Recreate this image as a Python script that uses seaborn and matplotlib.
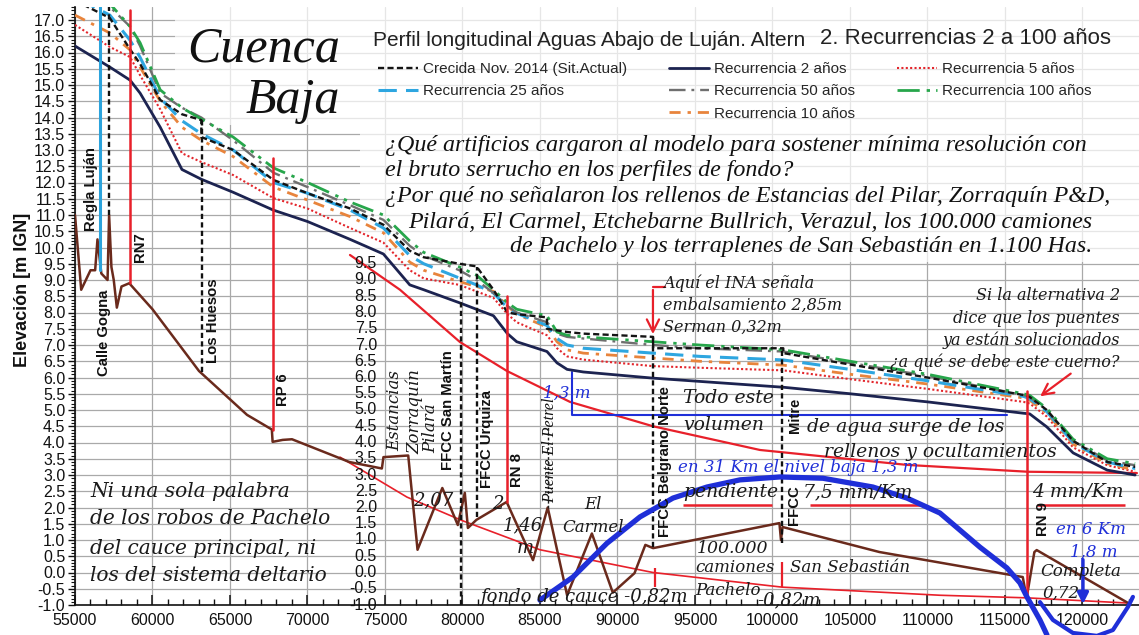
import pandas as pd
import seaborn as sns
from matplotlib import pyplot as plt
from matplotlib import ticker as plticker
from matplotlib.lines import Line2D
from matplotlib.patches import Rectangle

# ---------------------------------------------------------------
# valores (progresiva en m, cota en m IGN)
# los nodos repetidos de la progresiva son saltos en los puentes
# ---------------------------------------------------------------
prog = [55000, 57250, 58550, 59200, 60500, 61900, 63150, 63150, 65200, 67800,
        70000, 72750, 74900, 76600, 77500, 79800, 80900, 82000, 82900, 83500,
        85450, 85450, 86100, 86750, 87800, 92300, 92300, 95300, 100700, 100700,
        105000, 110000, 116200, 116600, 117700, 119400, 121600, 123400]

crecida_2014 = [17.6, 17.06, 16.1, 15.65, 14.54, 14.1, 13.92, 13.4, 13.0, 12.08,
                11.67, 11.2, 10.7, 9.9, 9.7, 9.5, 9.42, 8.7, 8.0, 7.95,
                7.85, 7.5, 7.45, 7.4, 7.35, 7.25, 6.9, 6.9, 6.9, 6.75,
                6.4, 6.0, 5.46, 5.4, 5.0, 4.05, 3.4, 3.25]
rec_2 = [16.2, 15.55, 15.15, 14.75, 13.7, 12.4, 12.1, 12.1, 11.7, 11.15,
         10.8, 10.25, 9.8, 8.85, 8.7, 8.3, 8.1, 7.9, 7.35, 7.1,
         6.8, 6.8, 6.45, 6.25, 6.17, 5.98, 5.98, 5.88, 5.7, 5.7,
         5.5, 5.25, 4.9, 4.88, 4.48, 3.68, 3.15, 3.0]
rec_5 = [16.85, 16.17, 15.86, 15.3, 14.25, 12.9, 12.63, 12.63, 12.23, 11.52,
         11.2, 10.6, 10.15, 9.3, 9.05, 8.85, 8.65, 8.45, 7.95, 7.7,
         7.3, 7.3, 6.9, 6.65, 6.55, 6.35, 6.35, 6.3, 6.22, 6.22,
         5.95, 5.65, 5.25, 5.2, 4.8, 3.85, 3.3, 3.1]
rec_10 = [17.15, 16.6, 16.08, 15.55, 14.5, 13.7, 13.3, 13.3, 12.8, 11.86,
          11.46, 10.95, 10.45, 9.55, 9.3, 8.95, 8.8, 8.65, 8.2, 7.95,
          7.55, 7.55, 7.1, 6.85, 6.75, 6.6, 6.6, 6.5, 6.38, 6.38,
          6.1, 5.8, 5.37, 5.3, 4.9, 3.95, 3.35, 3.15]
rec_25 = [17.7, 17.15, 16.38, 15.85, 14.6, 13.9, 13.5, 13.5, 13.0, 12.0,
          11.67, 11.15, 10.6, 9.75, 9.5, 9.06, 8.85, 8.6, 8.15, 7.98,
          7.6, 7.6, 7.2, 7.0, 6.9, 6.75, 6.75, 6.65, 6.54, 6.54,
          6.25, 5.9, 5.42, 5.35, 4.95, 4.0, 3.4, 3.2]
rec_50 = [17.9, 17.4, 16.8, 16.2, 14.75, 14.3, 14.0, 14.0, 13.3, 12.3,
          11.86, 11.3, 10.85, 10.05, 9.75, 9.3, 9.0, 8.6, 8.2, 8.0,
          7.7, 7.7, 7.35, 7.25, 7.2, 7.0, 7.0, 6.9, 6.8, 6.8,
          6.45, 6.05, 5.46, 5.4, 5.0, 4.05, 3.45, 3.3]
rec_100 = [18.0, 17.5, 16.8, 16.3, 14.85, 14.3, 13.95, 13.95, 13.4, 12.45,
           12.0, 11.4, 11.0, 10.2, 9.85, 9.4, 9.15, 8.7, 8.3, 8.1,
           7.9, 7.9, 7.4, 7.3, 7.25, 7.1, 7.1, 7.0, 6.85, 6.85,
           6.5, 6.1, 5.5, 5.45, 5.05, 4.1, 3.5, 3.35]

# perfil de fondo de cauce
fondo_prog = [55000, 55400, 56000, 56300, 56450, 56700, 57100, 57200, 57350, 57500,
              57700, 58000, 58500, 60000, 63000, 66100, 67700, 67750, 68400, 69000,
              72700, 74800, 74900, 76500, 77100, 78700, 79700, 80150, 80350, 80900,
              82850, 84550, 85500, 86750, 88350, 89700, 91100, 91800, 92300, 100450,
              100550, 100650, 106900, 116150, 116400, 116900, 117050, 122950]
fondo_cota = [11.0, 8.7, 9.3, 9.3, 10.25, 9.2, 9.0, 11.0, 9.4, 9.0,
              8.15, 8.8, 8.9, 8.1, 6.2, 4.85, 4.4, 4.02, 4.08, 4.1,
              3.4, 3.2, 3.55, 3.6, 0.7, 2.6, 1.46, 2.45, 1.37, 1.62,
              2.17, 0.38, 2.0, -0.7, 1.2, -0.62, -0.02, 0.85, 0.75, 1.52,
              1.0, 1.4, 0.63, -0.14, -0.78, 0.63, 0.69, -0.94]

# puentes y cruces
puente_prog = [56613, 57194, 58548, 63194, 67774, 79900, 80935, 82871, 85516,
               92290, 100612, 116450]
puente_sup = [17.4, 17.4, 17.3, 13.92, 12.75, 9.5, 9.4, 8.5, 4.5, 7.25, 6.9, 5.6]
puente_inf = [9.3, 11.0, 8.9, 6.17, 4.4, -1.0, 1.7, 2.17, 2.0, 0.8, 0.9, -0.8]
puente_tipo = ['regla', 'ffcc', 'ruta', 'ffcc', 'ruta', 'ffcc', 'ffcc', 'ruta',
               'fino', 'ffcc', 'ffcc', 'ruta']

# trazas agregadas a mano sobre el grafico
traza_sup_prog = [72742, 75968, 79839, 82871, 86935, 92290, 99194, 108700, 116484, 123516]
traza_sup_cota = [9.77, 8.70, 7.09, 6.20, 5.25, 4.50, 3.77, 3.31, 3.10, 3.06]
traza_inf_prog = [72097, 76419, 79968, 85000, 92290, 100613, 110806, 116419, 122935]
traza_inf_cota = [3.55, 2.32, 1.60, 0.70, 0.00, -0.45, -0.70, -0.78, -0.94]
arco_prog = [85000, 87129, 88226, 89323, 91452, 93581, 95774, 97903, 100484, 103258,
             106484, 108677, 110806, 113387, 115129, 115968, 116419, 117258, 117710]
arco_cota = [-0.85, -0.14, 0.38, 0.90, 1.71, 2.29, 2.63, 2.85, 2.94, 2.90,
             2.63, 2.29, 1.83, 0.78, 0.14, -0.32, -0.75, -1.46, -1.92]
ovalo_prog = [117258, 118097, 119387, 120935, 121968, 122935, 123258]
ovalo_cota = [-0.91, -1.46, -1.86, -1.95, -1.77, -1.06, -0.75]
desnivel_prog = [87065, 87065, 115129]
desnivel_cota = [6.17, 4.85, 4.85]
subrayado_ini = [94226, 102419, 117065]
subrayado_fin = [99968, 109516, 122742]
subrayado_cota = [2.08, 2.08, 2.08]
marca_prog = [92420, 100613]
marca_sup = [0.14, 0.32]
marca_inf = [-0.45, -0.45]

# eje secundario del tramo aguas abajo
cotas_tramo2 = [9.5, 9.0, 8.5, 8.0, 7.5, 7.0, 6.5, 6.0, 5.5, 5.0, 4.5, 4.0,
                3.5, 3.0, 2.5, 2.0, 1.5, 1.0, 0.5, 0.0, -0.5, -1.0]

series = {
    'Crecida Nov. 2014 (Sit.Actual)': crecida_2014,
    'Recurrencia 2 años': rec_2,
    'Recurrencia 5 años': rec_5,
    'Recurrencia 10 años': rec_10,
    'Recurrencia 25 años': rec_25,
    'Recurrencia 50 años': rec_50,
    'Recurrencia 100 años': rec_100,
}

estilos = {
    'Crecida Nov. 2014 (Sit.Actual)': dict(color='#141414', lw=1.7, dashes=(2.6, 1.4)),
    'Recurrencia 2 años': dict(color='#1c2350', lw=2.0, dashes=None),
    'Recurrencia 5 años': dict(color='#e3262c', lw=1.5, dashes=(1.0, 1.1)),
    'Recurrencia 10 años': dict(color='#e8843c', lw=2.0, dashes=(4, 2.5, 1.2, 2.5)),
    'Recurrencia 25 años': dict(color='#2ea6e0', lw=2.2, dashes=(6, 3)),
    'Recurrencia 50 años': dict(color='#6f6f6f', lw=1.7, dashes=(7, 2.5, 1.2, 2.5)),
    'Recurrencia 100 años': dict(color='#27a64b', lw=2.0, dashes=(8, 2.5, 1.2, 2.2, 1.2, 2.2)),
}
orden_dibujo = ['Recurrencia 2 años', 'Recurrencia 5 años', 'Recurrencia 10 años',
                'Recurrencia 25 años', 'Recurrencia 50 años', 'Recurrencia 100 años',
                'Crecida Nov. 2014 (Sit.Actual)']

ROJO = '#e8202a'
AZUL = '#1f2fd8'
SERIF_IT = dict(family='DejaVu Serif', style='italic', color='#1a1a1a')
TIMES_IT = dict(family='Liberation Serif', style='italic', color='#111111')
NEGRITA = dict(family='Liberation Sans', weight='bold', color='#111111')

sns.set_theme(style='whitegrid')
plt.rcParams['font.family'] = ['Liberation Sans', 'DejaVu Sans']

fig = plt.figure(figsize=(11.39, 6.35), dpi=100)
ax = fig.add_axes([75 / 1139, 30 / 635, 1064 / 1139, 598 / 635])
ax.set_facecolor('white')
ax.set_axisbelow(True)

# perfiles de agua
perfiles = pd.DataFrame({'prog': prog, **series})
largo = perfiles.melt(id_vars='prog', var_name='serie', value_name='cota')
for serie in orden_dibujo:
    est = estilos[serie]
    sns.lineplot(data=largo[largo['serie'] == serie], x='prog', y='cota',
                 estimator=None, sort=False, color=est['color'],
                 linewidth=est['lw'], ax=ax, zorder=4)
    if est['dashes'] is not None:
        ax.lines[-1].set_dashes(est['dashes'])

# fondo de cauce
sns.lineplot(x=fondo_prog, y=fondo_cota, estimator=None, sort=False,
             color='#6a2a1c', linewidth=1.8, ax=ax, zorder=4)

# puentes
for x, y1, y0, tipo in zip(puente_prog, puente_sup, puente_inf, puente_tipo):
    if tipo == 'ruta':
        ax.plot([x, x], [y0, y1], color=ROJO, lw=1.8, zorder=5)
    elif tipo == 'regla':
        ax.plot([x, x], [y0, y1], color='#2ba3dc', lw=2.2, zorder=5)
    elif tipo == 'fino':
        ax.plot([x, x], [y0, y1], color='#222222', lw=1.0, dashes=(2, 1.5), zorder=5)
    else:
        ax.plot([x, x], [y0, y1], color='#111111', lw=1.7, dashes=(2.2, 1.4), zorder=5)

# trazas rojas
ax.plot(traza_sup_prog, traza_sup_cota, color=ROJO, lw=1.6, zorder=3)
ax.plot(traza_inf_prog, traza_inf_cota, color=ROJO, lw=1.2, zorder=3)
ax.hlines(subrayado_cota, subrayado_ini, subrayado_fin, colors=ROJO, lw=1.8, zorder=3)
ax.vlines(marca_prog, marca_inf, marca_sup, colors=ROJO, lw=1.6, zorder=3)
ax.plot([93065, 92290], [8.78, 8.78], color=ROJO, lw=1.6, zorder=5)
ax.annotate('', xy=(92290, 7.25), xytext=(92290, 8.78),
            arrowprops=dict(arrowstyle='->', color=ROJO, lw=1.6,
                            mutation_scale=22), zorder=5)
ax.annotate('', xy=(117129, 5.37), xytext=(119387, 6.17),
            arrowprops=dict(arrowstyle='->', color=ROJO, lw=1.6,
                            mutation_scale=20), zorder=5)

# trazas azules
ax.plot(desnivel_prog, desnivel_cota, color=AZUL, lw=1.5, zorder=3)
ax.plot(arco_prog, arco_cota, color=AZUL, lw=3.8, zorder=6, clip_on=False,
        solid_capstyle='round')
ax.plot(ovalo_prog, ovalo_cota, color=AZUL, lw=3.0, zorder=6, clip_on=False)
ax.annotate('', xy=(120032, -1.06), xytext=(120032, 0.48),
            arrowprops=dict(arrowstyle='-|>', color=AZUL, lw=2.5,
                            mutation_scale=16), zorder=6, annotation_clip=False)

# velo claro sobre la zona de textos
ax.add_patch(Rectangle((61452, 13.77), 73387 - 61452, 17.6 - 13.77,
                       facecolor='white', edgecolor='none', alpha=0.72, zorder=1))
ax.add_patch(Rectangle((73387, 9.55), 123700 - 73387, 17.6 - 9.55,
                       facecolor='white', edgecolor='none', alpha=0.72, zorder=1))

# ejes
ax.set_xlim(55000, 123650)
ax.set_ylim(-1.0, 17.4)
ax.xaxis.set_major_locator(plticker.MultipleLocator(5000))
ax.xaxis.set_minor_locator(plticker.MultipleLocator(1000))
ax.yaxis.set_major_locator(plticker.MultipleLocator(0.5))
ax.yaxis.set_minor_locator(plticker.MultipleLocator(0.1))
ax.yaxis.set_major_formatter(plticker.FormatStrFormatter('%.1f'))
ax.grid(True, which='major', color='#a9a9a9', lw=0.9)
ax.grid(False, which='minor')
for lado in ['top', 'right']:
    ax.spines[lado].set_visible(False)
for lado in ['left', 'bottom']:
    ax.spines[lado].set_color('#111111')
    ax.spines[lado].set_linewidth(1.2)
ax.tick_params(axis='x', which='both', direction='in', bottom=True, colors='#111111',
               labelsize=11.5, pad=6)
ax.tick_params(axis='x', which='major', length=7, width=1.1)
ax.tick_params(axis='x', which='minor', length=4, width=1.0)
ax.tick_params(axis='y', which='both', direction='out', left=True, colors='#111111',
               labelsize=11.5, pad=2)
ax.tick_params(axis='y', which='major', length=5, width=1.0)
ax.tick_params(axis='y', which='minor', length=3, width=0.8)
ax.set_xlabel('')
ax.set_ylabel('Elevación [m IGN]', fontsize=13, fontweight='bold', color='#111111')
ax.yaxis.set_label_coords(-0.041, 0.527)

for v in cotas_tramo2:
    ax.text(74484, v, f'{v:.1f}', ha='right', va='center', fontsize=11.5,
            color='#111111', zorder=6)

# titulo y leyenda
fig.text(373 / 1139, 1 - 41 / 635, 'Perfil longitudinal Aguas Abajo de Luján. Altern',
         fontsize=15, va='center', color='#222222')
fig.text(820 / 1139, 1 - 39 / 635, '2. Recurrencias 2 a 100 años',
         fontsize=16, va='center', color='#222222')


def muestra(nombre):
    est = estilos[nombre]
    h = Line2D([0], [0], color=est['color'], lw=est['lw'])
    if est['dashes'] is not None:
        h.set_dashes(est['dashes'])
    return h


vacio = Line2D([0], [0], color='none')
orden_ley = ['Crecida Nov. 2014 (Sit.Actual)', 'Recurrencia 25 años', None,
             'Recurrencia 2 años', 'Recurrencia 50 años', 'Recurrencia 10 años',
             'Recurrencia 5 años', 'Recurrencia 100 años', None]
manijas = [muestra(n) if n else vacio for n in orden_ley]
etiquetas = [n if n else ' ' for n in orden_ley]
ax.legend(manijas, etiquetas, ncol=3, loc='upper left',
          bbox_to_anchor=(378 / 1139, 1 - 62 / 635), bbox_transform=fig.transFigure,
          frameon=False, fontsize=11, handlelength=2.6, handletextpad=0.35,
          columnspacing=2.75, labelspacing=0.55, borderpad=0, borderaxespad=0)

# textos
ax.text(72097, 15.71, 'Cuenca', ha='right', va='baseline', fontsize=36, **TIMES_IT)
ax.text(72097, 14.14, 'Baja', ha='right', va='baseline', fontsize=36, **TIMES_IT)

preguntas = [
    (75000, 13.15, 'left', '¿Qué artificios cargaron al modelo para sostener mínima resolución con'),
    (75000, 12.38, 'left', 'el bruto serrucho en los perfiles de fondo?'),
    (75000, 11.58, 'left', '¿Por qué no señalaron los rellenos de Estancias del Pilar, Zorraquín P&D,'),
    (120613, 10.78, 'right', 'Pilará, El Carmel, Etchebarne Bullrich, Verazul, los 100.000 camiones'),
    (120613, 10.02, 'right', 'de Pachelo y los terraplenes de San Sebastián en 1.100 Has.'),
]
for x, y, al, s in preguntas:
    ax.text(x, y, s, ha=al, va='center', fontsize=17.3, zorder=7, **TIMES_IT)

for y, s in zip([8.91, 8.23, 7.55], ['Aquí el INA señala', 'embalsamiento 2,85m', 'Serman 0,32m']):
    ax.text(92935, y, s, ha='left', va='center', fontsize=11.5, zorder=7, **SERIF_IT)
for y, s in zip([8.51, 7.83, 7.15, 6.48], ['Si la alternativa 2', 'dice que los puentes',
                                           'ya están solucionados', '¿a qué se debe este cuerno?']):
    ax.text(122420, y, s, ha='right', va='center', fontsize=11.5, zorder=7, **SERIF_IT)

ax.text(94226, 5.37, 'Todo este', ha='left', va='center', fontsize=13.5, zorder=7, **SERIF_IT)
ax.text(94226, 4.54, 'volumen', ha='left', va='center', fontsize=13.5, zorder=7, **SERIF_IT)
ax.text(102226, 4.48, 'de agua surge de los', ha='left', va='center', fontsize=13.5,
        zorder=7, **SERIF_IT)
ax.text(118355, 3.71, 'rellenos y ocultamientos', ha='right', va='center', fontsize=13.5,
        zorder=7, **SERIF_IT)
ax.text(101645, 3.22, 'en 31 Km el nivel baja 1,3 m', ha='center', va='center', fontsize=12,
        zorder=7, family='DejaVu Serif', style='italic', color=AZUL)
ax.text(94226, 2.48, 'pendiente', ha='left', va='center', fontsize=13.5, zorder=7, **SERIF_IT)
ax.text(101968, 2.48, '7,5 mm/Km', ha='left', va='center', fontsize=13.5, zorder=7, **SERIF_IT)
ax.text(116742, 2.48, '4 mm/Km', ha='left', va='center', fontsize=13.5, zorder=7, **SERIF_IT)
ax.text(86742, 5.52, '1,3 m', ha='center', va='center', fontsize=12, zorder=7,
        family='DejaVu Serif', style='italic', color=AZUL)

for y, s in zip([2.48, 1.65, 0.75, -0.08], ['Ni una sola palabra', 'de los robos de Pachelo',
                                           'del cauce principal, ni', 'los del sistema deltario']):
    ax.text(55968, y, s, ha='left', va='center', fontsize=14.5, zorder=7, **SERIF_IT)

notas_fondo = [
    (81129, -0.75, 'left', 'fondo de cauce -0,82m', 13),
    (95000, -0.54, 'left', 'Pachelo', 12),
    (99000, -0.85, 'left', '-0,82m', 13),
    (95129, 0.75, 'left', '100.000', 12.5),
    (95000, 0.14, 'left', 'camiones', 12),
    (101129, 0.14, 'left', 'San Sebastián', 12),
    (88419, 2.08, 'center', 'El', 12),
    (88419, 1.40, 'center', 'Carmel', 12),
    (76806, 2.23, 'left', '2,07', 13),
    (81903, 2.12, 'left', '2', 13),
    (82613, 1.46, 'left', '1,46', 13),
    (83516, 0.75, 'left', 'm', 13),
    (117258, 0.02, 'left', 'Completa', 12),
    (117452, -0.63, 'left', '0,72', 12),
]
for x, y, al, s, fs in notas_fondo:
    ax.text(x, y, s, ha=al, va='center', fontsize=fs, zorder=7, **SERIF_IT)
ax.text(120548, 1.31, 'en 6 Km', ha='center', va='center', fontsize=12, zorder=7,
        family='DejaVu Serif', style='italic', color=AZUL)
ax.text(120742, 0.63, '1,8 m', ha='center', va='center', fontsize=12, zorder=7,
        family='DejaVu Serif', style='italic', color=AZUL)

# nombres de los puentes (rotados)
nombres = [
    (56032, 11.80, 'Regla Luján'), (56871, 7.37, 'Calle Gogna'), (59194, 10.0, 'RN7'),
    (63903, 7.74, 'Los Huesos'), (68419, 5.62, 'RP 6'), (79065, 5.0, 'FFCC San Martín'),
    (81581, 4.12, 'FFCC Urquiza'), (83516, 3.15, 'RN 8'), (93065, 3.40, 'FFCC Belgrano Norte'),
    (101452, 4.82, 'Mitre'), (101387, 2.08, 'FFCC'), (117452, 1.65, 'RN 9'),
]
for x, y, s in nombres:
    ax.text(x, y, s, rotation=90, ha='center', va='center', fontsize=10.7, zorder=7, **NEGRITA)
for x, y, s in [(75645, 4.97, 'Estancias'), (76935, 4.94, 'Zorraquín'), (77968, 4.45, 'Pilará')]:
    ax.text(x, y, s, rotation=90, ha='center', va='center', fontsize=12, zorder=7, **SERIF_IT)
ax.text(85645, 3.77, 'Puente El Petrel', rotation=90, ha='center', va='center',
        fontsize=11.5, zorder=7, **TIMES_IT)

fig.savefig('out.png', dpi=100)
